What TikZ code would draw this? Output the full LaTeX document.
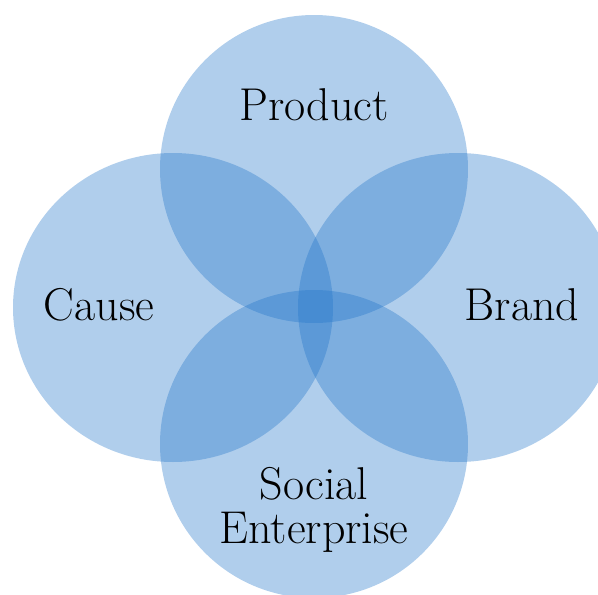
\documentclass[tikz,border=0pt]{standalone}
\definecolor{vennblue}{RGB}{30,115,200}
\tikzset{
  venn/.style={fill=vennblue, fill opacity=0.35, draw=none},
  lbl/.style={font=\fontsize{46}{44}\selectfont, text=black, align=center, inner sep=0pt}
}
\begin{document}
\begin{tikzpicture}[x=1pt,y=-1pt]
\useasboundingbox (0,0) rectangle (598,595);
\clip (0,0) rectangle (598,595);
\fill[venn] (314,169) circle [radius=154];
\fill[venn] (173,307.5) ellipse [x radius=160, y radius=154.5];
\fill[venn] (458,307.5) ellipse [x radius=160, y radius=154.5];
\fill[venn] (314,444) circle [radius=154];
\node[lbl] (product) at (314,105) {Product};
\node[lbl] (cause) at (99,305) {Cause};
\node[lbl] (brand) at (522,305) {Brand};
\node[lbl] (social) at (314,510) {Social\\Enterprise};
\end{tikzpicture}
\end{document}
